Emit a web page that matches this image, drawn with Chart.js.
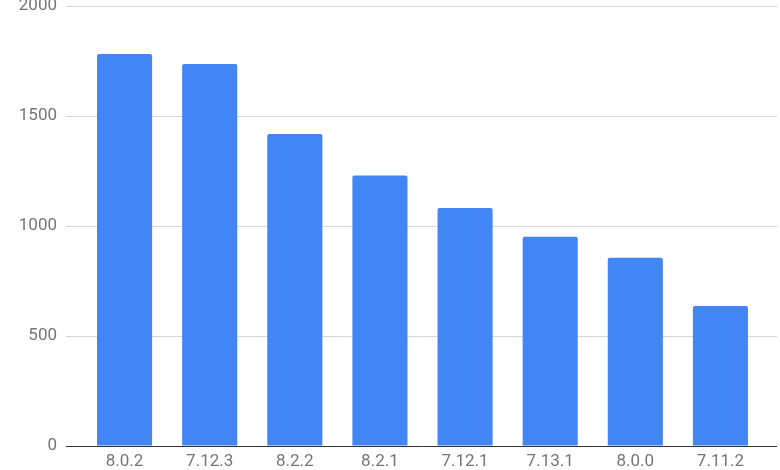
<!DOCTYPE html>
<html>
<head>
<meta charset="utf-8">
<script src="https://cdn.jsdelivr.net/npm/chart.js@4/dist/chart.umd.min.js"></script>
<style>
  html, body { margin: 0; padding: 0; background: #ffffff; }
  #wrap { width: 780px; height: 470px; position: relative; }
</style>
</head>
<body>
<div id="wrap"><canvas id="c"></canvas></div>
<script>
const categories = ["8.0.2", "7.12.3", "8.2.2", "8.2.1", "7.12.1", "7.13.1", "8.0.0", "7.11.2"];
const values = [1782, 1736, 1418, 1230, 1082, 951, 856, 636];
const yTicks = [0, 500, 1000, 1500, 2000];

const textColor = '#757575';
const gridColor = '#d6d6d6';
const zeroColor = '#333333';
const lineColorFn = (ctx) => (ctx.tick && ctx.tick.value === 0) ? zeroColor : gridColor;

new Chart(document.getElementById('c'), {
  type: 'bar',
  data: {
    labels: categories,
    datasets: [{
      data: values,
      backgroundColor: '#4285f4',
      borderWidth: 0,
      borderRadius: 2,
      barPercentage: 1,
      categoryPercentage: 0.647
    }]
  },
  options: {
    responsive: true,
    maintainAspectRatio: false,
    animation: false,
    layout: { padding: { top: 6, right: 3, bottom: 0, left: 0 } },
    plugins: { legend: { display: false }, tooltip: { enabled: false } },
    scales: {
      x: {
        type: 'category',
        grid: { display: false, drawTicks: false },
        border: { display: false },
        ticks: {
          color: textColor,
          padding: 6,
          font: { family: 'Roboto', size: 17 },
          maxRotation: 0,
          autoSkip: false
        },
        afterFit: (axis) => { axis.height = 24; }
      },
      y: {
        position: 'left',
        min: yTicks[0],
        max: yTicks[yTicks.length - 1],
        afterBuildTicks: (axis) => { axis.ticks = yTicks.map(v => ({ value: v })); },
        grid: {
          color: lineColorFn,
          tickColor: lineColorFn,
          lineWidth: 1,
          drawTicks: true,
          tickLength: 16
        },
        border: { display: false },
        ticks: {
          color: textColor,
          padding: 9,
          font: { family: 'Roboto', size: 17 },
          callback: (v) => String(v)
        },
        afterFit: (axis) => { axis.width = 82; axis.paddingTop = 0; axis.paddingBottom = 0; }
      },
      y2: {
        position: 'right',
        min: yTicks[0],
        max: yTicks[yTicks.length - 1],
        afterBuildTicks: (axis) => { axis.ticks = yTicks.map(v => ({ value: v })); },
        grid: {
          color: lineColorFn,
          tickColor: lineColorFn,
          lineWidth: 1,
          drawOnChartArea: false,
          drawTicks: true,
          tickLength: 14
        },
        border: { display: false },
        ticks: { display: false },
        afterFit: (axis) => { axis.width = 14; axis.paddingTop = 0; axis.paddingBottom = 0; }
      }
    }
  }
});
</script>
</body>
</html>
